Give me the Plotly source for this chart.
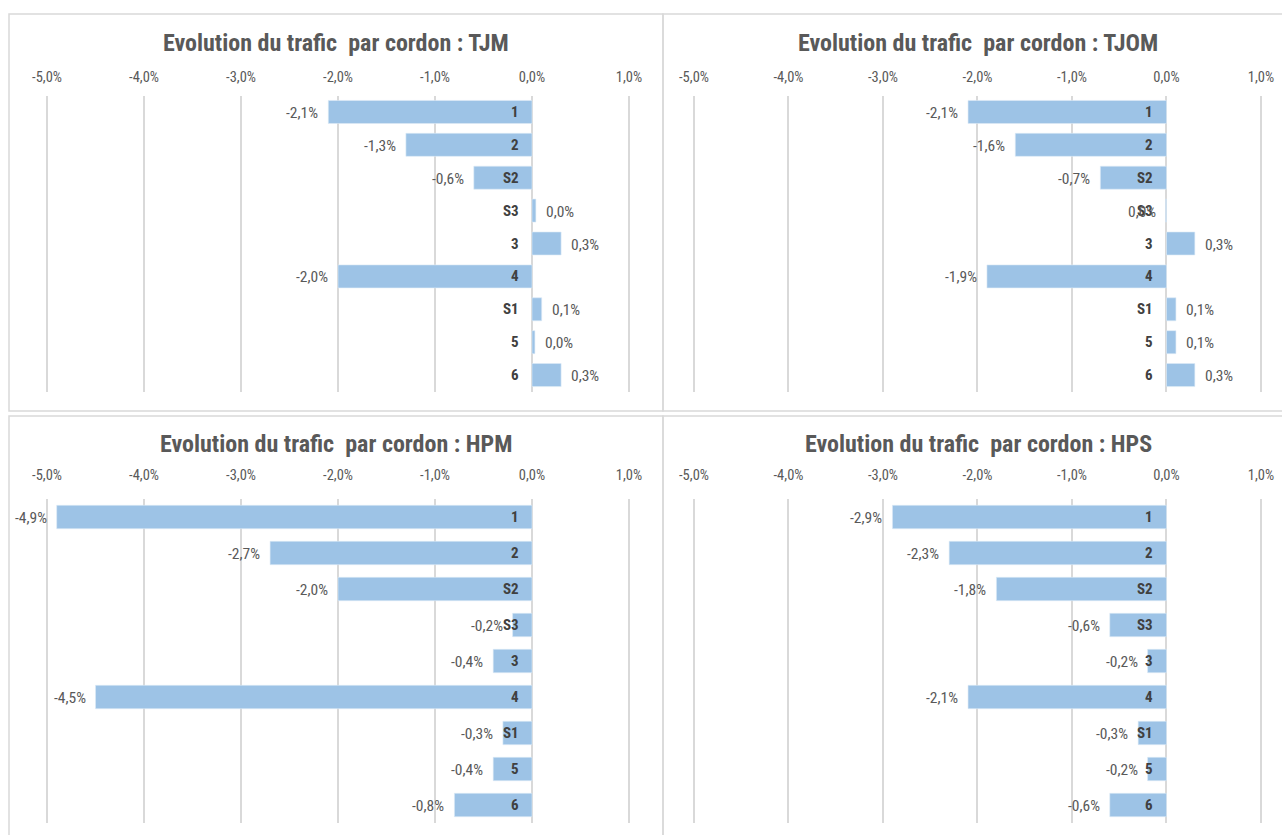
import plotly.graph_objects as go

# Cordons, in display order (top to bottom)
cordons = ["1", "2", "S2", "S3", "3", "4", "S1", "5", "6"]

# Evolution du trafic (%) par cordon et par période
evo_tjm = [-2.1, -1.3, -0.6, 0.04, 0.3, -2.0, 0.1, 0.03, 0.3]
evo_tjom = [-2.1, -1.6, -0.7, -0.01, 0.3, -1.9, 0.1, 0.1, 0.3]
evo_hpm = [-4.9, -2.7, -2.0, -0.2, -0.4, -4.5, -0.3, -0.4, -0.8]
evo_hps = [-2.9, -2.3, -1.8, -0.6, -0.2, -2.1, -0.3, -0.2, -0.6]

periodes = ["TJM", "TJOM", "HPM", "HPS"]
series = [evo_tjm, evo_tjom, evo_hpm, evo_hps]

tick_vals = [-5, -4, -3, -2, -1, 0, 1]
tick_text = ["-5,0%", "-4,0%", "-3,0%", "-2,0%", "-1,0%", "0,0%", "1,0%"]

W, H = 1282, 835
FONT = "Roboto Condensed, Arial Narrow, Arial, sans-serif"
BAR = "#9DC3E6"
GRID = "#D9D9D9"
TXT = "#595959"
CAT = "#404040"

X_MIN, X_MAX = -5.05, 1.05


def x_domain(zero_px, px_per_unit):
    return [(zero_px + X_MIN * px_per_unit) / W, (zero_px + X_MAX * px_per_unit) / W]


def y_domain(top_px, bottom_px):
    return [1 - bottom_px / H, 1 - top_px / H]


# panel geometry: (x zero, px per 1 %, y top, y bottom, bar width, title y, label standoff)
panels = [
    (532.0, 97.0, 95.5, 391.5, 0.70, 43, 11),
    (1166.5, 94.5, 95.5, 391.5, 0.70, 43, 11),
    (532.0, 97.0, 499.0, 823.0, 0.65, 444, 16),
    (1166.5, 94.5, 499.0, 823.0, 0.65, 444, 16),
]


def fmt(v):
    s = f"{v:.1f}"
    if s == "-0.0":
        s = "0.0"
    return s.replace(".", ",") + "%"


fig = go.Figure()
annotations = []
layout = {}

for i, (name, vals, geo) in enumerate(zip(periodes, series, panels)):
    zx, ppu, ytop, ybot, bw, title_y, standoff = geo
    n = "" if i == 0 else str(i + 1)
    xa, ya = "x" + n, "y" + n

    fig.add_trace(go.Bar(
        x=vals, y=cordons, orientation="h", width=bw,
        marker=dict(color=BAR, line=dict(color="#DDEBF7", width=0.6)),
        xaxis=xa, yaxis=ya, showlegend=False, hoverinfo="x+y",
    ))

    layout["xaxis" + n] = dict(
        domain=x_domain(zx, ppu), range=[X_MIN, X_MAX], side="top",
        anchor=ya, tickvals=tick_vals, ticktext=tick_text, automargin=False,
        showgrid=True, gridcolor=GRID, gridwidth=1.5,
        zeroline=True, zerolinecolor=GRID, zerolinewidth=1.5,
        showline=False, ticks="", ticklabelstandoff=standoff - 1,
        tickfont=dict(family=FONT, size=14.5, color=TXT), fixedrange=True,
    )
    layout["yaxis" + n] = dict(
        domain=y_domain(ytop, ybot), type="category", automargin=False,
        categoryorder="array", categoryarray=cordons,
        autorange="reversed", anchor=xa, showticklabels=False,
        showgrid=False, zeroline=False, showline=False, fixedrange=True,
    )

    # panel title
    cx = 336 if i % 2 == 0 else 978
    annotations.append(dict(
        xref="paper", yref="paper", x=cx / W, y=1 - title_y / H,
        text="<b>Evolution du trafic\u00a0 par cordon : " + name + "</b>",
        showarrow=False, xanchor="center", yanchor="middle",
        font=dict(family=FONT, size=24, color=TXT),
    ))

    for j, (c, v) in enumerate(zip(cordons, vals)):
        # cordon name next to the zero line (y given as category index)
        annotations.append(dict(
            xref=xa, yref=ya, x=0, y=j, text=f"<b>{c}</b>",
            showarrow=False, xanchor="right", yanchor="middle", xshift=-11,
            font=dict(family=FONT, size=15, color=CAT),
        ))
        # value at the end of the bar
        neg = v < 0
        annotations.append(dict(
            xref=xa, yref=ya, x=v, y=j, text=fmt(v),
            showarrow=False, xanchor="right" if neg else "left",
            yanchor="middle", xshift=-8 if neg else 8, yshift=-1,
            font=dict(family=FONT, size=15.5, color=TXT),
        ))

# panel frames
frames = [(9, 14, 663, 411), (663, 14, 1295, 411), (9, 416, 663, 850), (663, 416, 1295, 850)]
shapes = [
    dict(type="rect", xref="paper", yref="paper",
         x0=x0 / W, x1=x1 / W, y0=1 - y1 / H, y1=1 - y0 / H,
         line=dict(color=GRID, width=1.5), fillcolor="rgba(0,0,0,0)", layer="below")
    for x0, y0, x1, y1 in frames
]

fig.update_layout(
    width=W, height=H, margin=dict(l=0, r=0, t=0, b=0, autoexpand=False),
    paper_bgcolor="white", plot_bgcolor="white",
    font=dict(family=FONT, color=TXT),
    annotations=annotations, shapes=shapes, **layout,
)

fig.write_html("out.html", config={"displayModeBar": False})
